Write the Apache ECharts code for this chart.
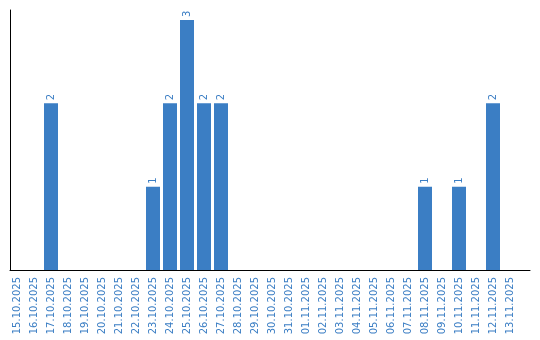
<!DOCTYPE html>
<html><head><meta charset="utf-8">
<script src="https://cdn.jsdelivr.net/npm/echarts@6/dist/echarts.min.js"></script>
<style>html,body{margin:0;padding:0;background:#fff}#c{width:540px;height:340px}</style>
</head><body><div id="c"></div>
<script>
const categories = ['15.10.2025','16.10.2025','17.10.2025','18.10.2025','19.10.2025','20.10.2025','21.10.2025','22.10.2025','23.10.2025','24.10.2025','25.10.2025','26.10.2025','27.10.2025','28.10.2025','29.10.2025','30.10.2025','31.10.2025','01.11.2025','02.11.2025','03.11.2025','04.11.2025','05.11.2025','06.11.2025','07.11.2025','08.11.2025','09.11.2025','10.11.2025','11.11.2025','12.11.2025','13.11.2025'];
const counts = [0,0,2,0,0,0,0,0,1,2,3,2,2,0,0,0,0,0,0,0,0,0,0,0,1,0,1,0,2,0];

const blue = '#3b7ec4';
const chart = echarts.init(document.getElementById('c'), null, {renderer:'canvas'});
chart.setOption({
  animation: false,
  grid: [
    {left: 8.5, width: 510, top: 10, height: 260, containLabel: false},
    {left: 10, right: 10, top: 10, height: 260, containLabel: false}
  ],
  xAxis: [
    {type: 'category', gridIndex: 0, data: categories,
     axisLine: {show: false}, axisTick: {show: false},
     axisLabel: {rotate: 90, interval: 0, margin: 7, color: blue, fontFamily: 'DejaVu Sans', fontSize: 10}},
    {type: 'value', gridIndex: 1, min: 0, max: 1,
     axisLine: {show: true, lineStyle: {color: '#000', width: 1}}, axisTick: {show: false},
     axisLabel: {show: false}, splitLine: {show: false}}
  ],
  yAxis: [
    {type: 'value', gridIndex: 0, min: 0, max: 3.12, show: false, splitLine: {show: false}},
    {type: 'value', gridIndex: 1, min: 0, max: 1,
     axisLine: {show: true, lineStyle: {color: '#000', width: 1}}, axisTick: {show: false},
     axisLabel: {show: false}, splitLine: {show: false}}
  ],
  series: [{
    type: 'bar', xAxisIndex: 0, yAxisIndex: 0, data: counts,
    barWidth: 14,
    itemStyle: {color: blue},
    label: {show: true, position: 'top', rotate: 90, align: 'left', verticalAlign: 'middle', distance: 3,
      color: blue, fontFamily: 'DejaVu Sans', fontSize: 10,
      formatter: p => p.value > 0 ? String(p.value) : ''}
  }]
});
</script></body></html>
